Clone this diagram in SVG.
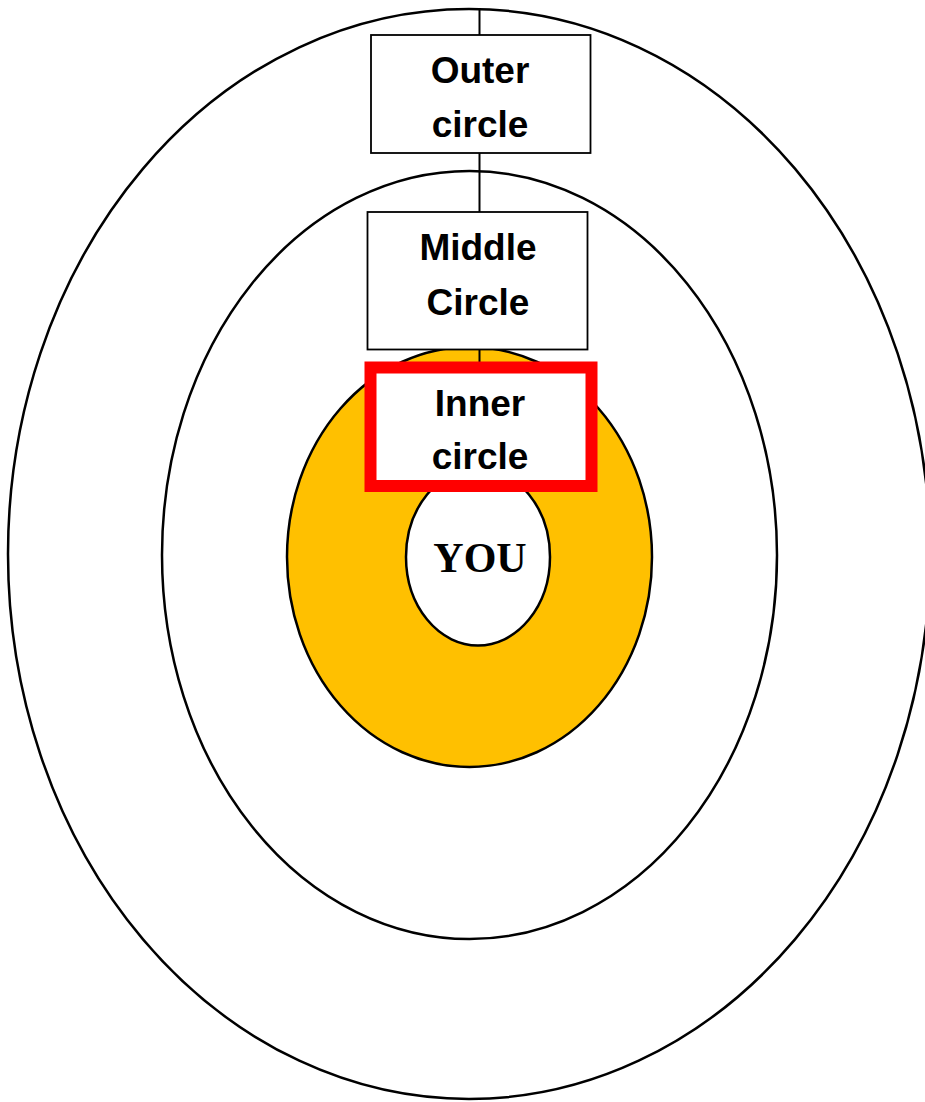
<svg xmlns="http://www.w3.org/2000/svg" width="925" height="1102" viewBox="0 0 925 1102">
<style>
.ring{fill:#fff;stroke:#000;stroke-width:2.5}
.box{fill:#fff;stroke:#000;stroke-width:1.8}
.lbl{font-family:"Liberation Sans",Arial,sans-serif;font-weight:bold;font-size:37px;text-anchor:middle;fill:#000}
.conn{stroke:#000;stroke-width:2;fill:none}
</style>
<rect width="925" height="1102" fill="#fff"/>
<g id="outer-ring"><ellipse class="ring" cx="469" cy="554" rx="461" ry="545"/></g>
<g id="middle-ring"><ellipse class="ring" cx="469.5" cy="555" rx="307.5" ry="384"/></g>
<g id="inner-ring"><ellipse cx="469.5" cy="557" rx="182.5" ry="210" fill="#FFC000" stroke="#000" stroke-width="2.5"/></g>
<g id="you"><ellipse class="ring" cx="478" cy="557" rx="72" ry="88.5"/>
<text x="480" y="572" font-family="'Liberation Serif','Times New Roman',serif" font-weight="bold" font-size="42" text-anchor="middle">YOU</text></g>
<g id="connectors">
<line class="conn" x1="479.5" y1="10" x2="479.5" y2="35"/>
<line class="conn" x1="479.5" y1="153" x2="479.5" y2="212"/>
<line class="conn" x1="479.5" y1="349" x2="479.5" y2="362"/>
</g>
<g id="outer-label"><rect class="box" x="371" y="35" width="219.5" height="118"/>
<text class="lbl" x="480" y="83">Outer</text><text class="lbl" x="480" y="137">circle</text></g>
<g id="middle-label"><rect class="box" x="367.5" y="212" width="220" height="137.5"/>
<text class="lbl" x="478" y="260">Middle</text><text class="lbl" x="478" y="315">Circle</text></g>
<g id="inner-label"><rect x="370.5" y="367.5" width="221" height="118.5" fill="#fff" stroke="#FF0000" stroke-width="12"/>
<text class="lbl" x="480" y="416">Inner</text><text class="lbl" x="480" y="469">circle</text></g>
</svg>
